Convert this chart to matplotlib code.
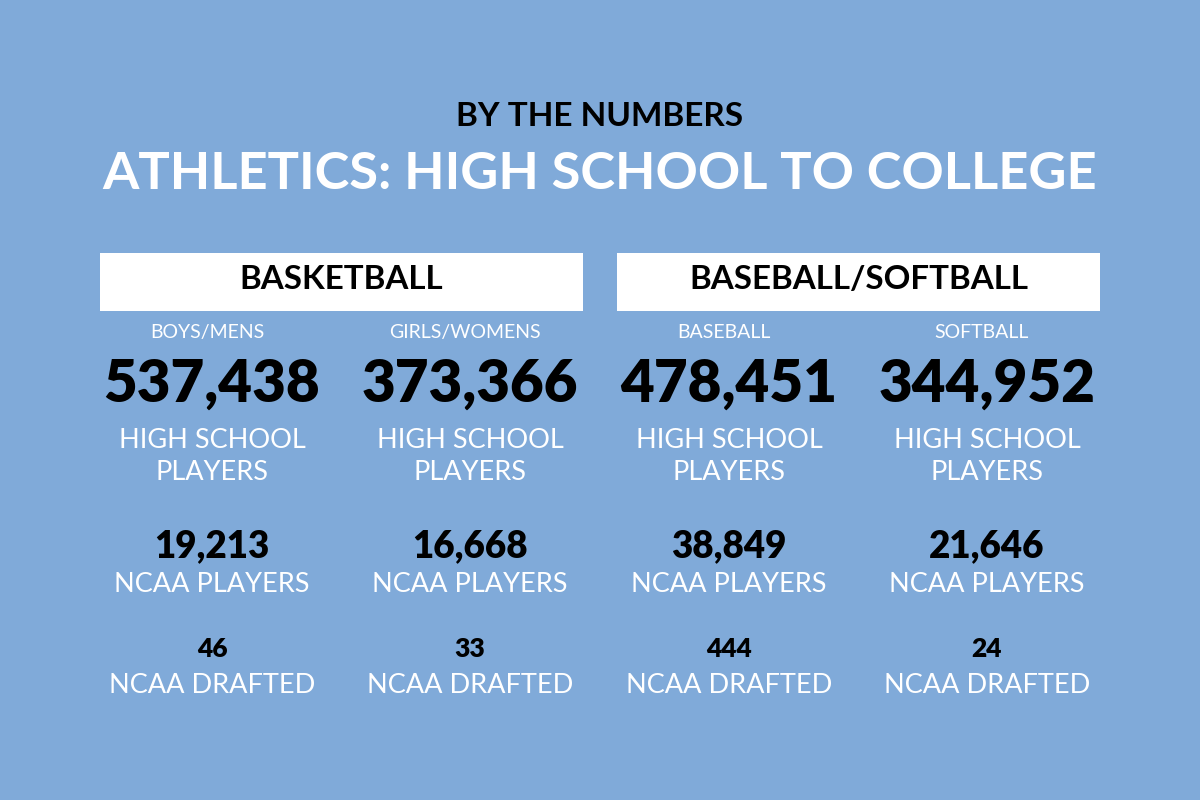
import matplotlib
matplotlib.use("Agg")
import matplotlib.pyplot as plt
from matplotlib.patches import Rectangle

sections = ["BASKETBALL", "BASEBALL/SOFTBALL"]
subcats = ["BOYS/MENS", "GIRLS/WOMENS", "BASEBALL", "SOFTBALL"]
hs_players = [537438, 373366, 478451, 344952]
ncaa_players = [19213, 16668, 38849, 21646]
drafted = [46, 33, 444, 24]

BG = "#80aad9"
W, H = 1200, 800
fig = plt.figure(figsize=(12, 8), dpi=100, facecolor=BG)
ax = fig.add_axes([0, 0, 1, 1])
ax.set_xlim(0, W)
ax.set_ylim(H, 0)
ax.axis("off")
ax.set_facecolor(BG)

FONT = ["Lato", "DejaVu Sans"]

def t(x, y, s, size, color, weight="normal"):
    ax.text(x, y, s, fontsize=size, color=color, fontweight=weight,
            family=FONT, ha="center", va="center_baseline")

t(600, 114, "BY THE NUMBERS", 24, "black", "bold")
t(600, 170, "ATHLETICS: HIGH SCHOOL TO COLLEGE", 37.7, "white", "bold")

box_x = [100, 617]
box_w = 483
for bx, name in zip(box_x, sections):
    ax.add_patch(Rectangle((bx, 253), box_w, 58, facecolor="white", edgecolor="none"))
    t(bx + box_w / 2, 277, name, 23.9, "black", "bold")

col_x = [212, 470, 729, 987]
for cx, sub, hs, nc, dr in zip(col_x, subcats, hs_players, ncaa_players, drafted):
    t(cx - 5, 331, sub, 14, "white", "normal")
    t(cx, 380, f"{hs:,}", 42, "black", "heavy")
    t(cx, 438, "HIGH SCHOOL", 19.5, "white", "normal")
    t(cx, 470, "PLAYERS", 19.5, "white", "normal")
    t(cx, 543, f"{nc:,}", 26.5, "black", "heavy")
    t(cx, 582, "NCAA PLAYERS", 19.5, "white", "normal")
    t(cx, 647, f"{dr:,}", 19, "black", "heavy")
    t(cx, 683, "NCAA DRAFTED", 19.5, "white", "normal")

fig.savefig("out.png", dpi=100, facecolor=BG)
